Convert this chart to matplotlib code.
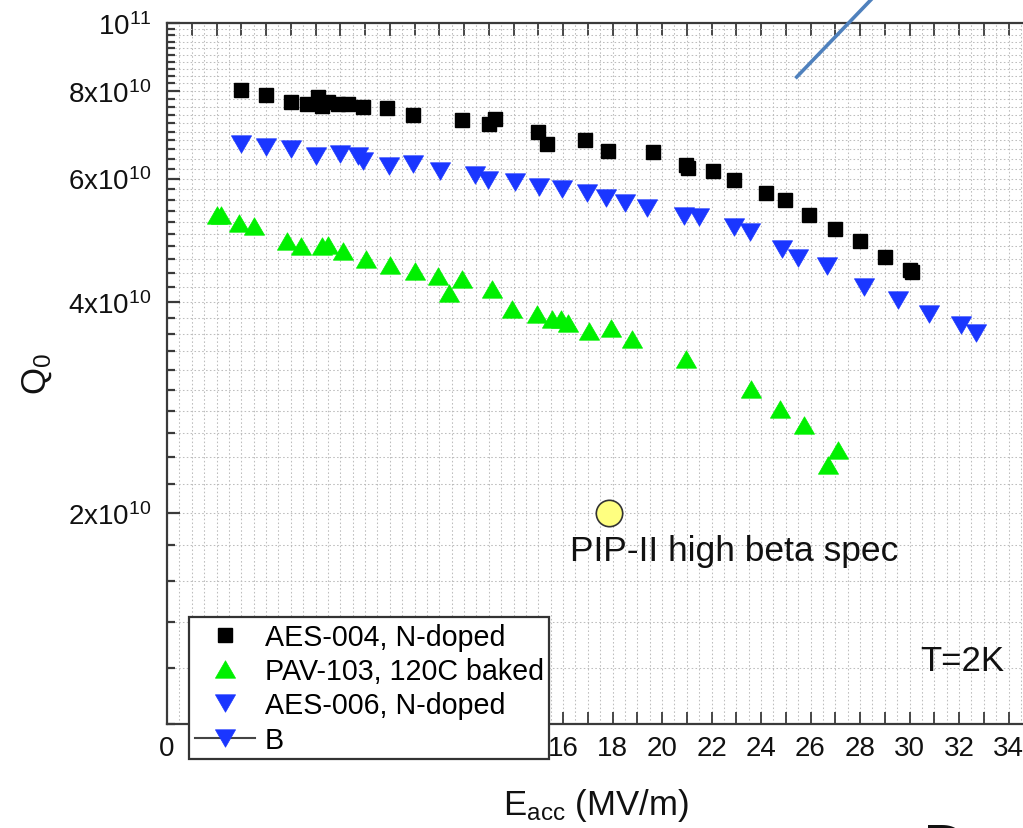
import numpy as np
import matplotlib
matplotlib.use('Agg')
import matplotlib.pyplot as plt
from matplotlib.path import Path
from matplotlib.lines import Line2D
from matplotlib.ticker import FixedLocator, MultipleLocator, FuncFormatter, NullFormatter

plt.rcParams['font.family'] = ['Liberation Sans', 'DejaVu Sans']
plt.rcParams['mathtext.fontset'] = 'custom'
plt.rcParams['mathtext.rm'] = 'Liberation Sans'
plt.rcParams['mathtext.it'] = 'Liberation Sans:italic'
plt.rcParams['mathtext.default'] = 'regular'

# ---------------- data ----------------
aes004_e = [3.0, 4.0, 5.0, 5.65, 6.1, 6.25, 6.5, 6.9, 7.3, 7.9, 8.9, 9.95, 11.9,
            13.0, 13.25, 15.0, 15.35, 16.9, 17.8, 19.65, 20.95, 21.05, 22.05, 22.9,
            24.2, 24.95, 25.95, 27.0, 28.0, 29.0, 30.0, 30.1]
aes004_q = [8.02e10, 7.89e10, 7.72e10, 7.66e10, 7.84e10, 7.62e10, 7.71e10, 7.66e10,
            7.66e10, 7.59e10, 7.56e10, 7.39e10, 7.27e10, 7.17e10, 7.29e10, 6.99e10,
            6.71e10, 6.80e10, 6.57e10, 6.54e10, 6.28e10, 6.22e10, 6.15e10, 5.97e10,
            5.72e10, 5.60e10, 5.32e10, 5.09e10, 4.89e10, 4.63e10, 4.44e10, 4.41e10]

pav103_e = [2.03, 2.19, 2.9, 3.5, 4.85, 5.4, 6.25, 6.5, 7.1, 8.05, 9.0, 10.0, 10.95,
            11.4, 11.9, 13.15, 13.95, 14.95, 15.55, 15.9, 16.2, 17.05, 17.95, 18.8,
            20.95, 23.6, 24.75, 25.75, 26.7, 27.1]
pav103_q = [5.33e10, 5.33e10, 5.19e10, 5.13e10, 4.89e10, 4.81e10, 4.81e10, 4.82e10,
            4.73e10, 4.61e10, 4.52e10, 4.43e10, 4.35e10, 4.12e10, 4.32e10, 4.17e10,
            3.91e10, 3.84e10, 3.78e10, 3.78e10, 3.73e10, 3.64e10, 3.67e10, 3.54e10,
            3.32e10, 3.01e10, 2.81e10, 2.67e10, 2.34e10, 2.46e10]

aes006_e = [3.0, 4.0, 5.0, 6.0, 7.0, 7.7, 7.9, 8.95, 9.95, 11.05, 12.45, 12.95, 14.05,
            15.05, 15.95, 16.95, 17.75, 18.5, 19.4, 20.9, 21.5, 22.9, 23.55, 24.85,
            25.5, 26.65, 28.15, 29.55, 30.8, 32.1, 32.7]
aes006_q = [6.71e10, 6.66e10, 6.61e10, 6.46e10, 6.51e10, 6.46e10, 6.36e10, 6.25e10,
            6.30e10, 6.15e10, 6.07e10, 5.98e10, 5.93e10, 5.84e10, 5.79e10, 5.73e10,
            5.62e10, 5.53e10, 5.45e10, 5.30e10, 5.28e10, 5.12e10, 5.03e10, 4.76e10,
            4.62e10, 4.50e10, 4.20e10, 4.02e10, 3.85e10, 3.71e10, 3.61e10]

spec_e = [17.85]
spec_q = [2.0e10]

series_labels = ['AES-004, N-doped', 'PAV-103, 120C baked', 'AES-006, N-doped', 'B']
spec_label = 'PIP-II high beta spec'
temp_label = 'T=2K'

y_major = [2e10, 4e10, 6e10, 8e10, 1e11]
y_major_labels = ['$2x10^{10}$', '$4x10^{10}$', '$6x10^{10}$', '$8x10^{10}$', '$10^{11}$']

# ---------------- styling ----------------
BLACK = '#000000'
GREEN = '#00f000'
BLUE = '#1a36ff'
SPINE = '#3a3a3a'

tri_up = Path([(0, 0.866), (-1, -0.866), (1, -0.866), (0, 0.866)], closed=True)
tri_dn = Path([(0, -0.866), (-1, 0.866), (1, 0.866), (0, -0.866)], closed=True)

W, H = 1023, 829
fig = plt.figure(figsize=(W / 100, H / 100), dpi=100)
ax_w_px = 36 * 24.75
ax = fig.add_axes([167 / W, 1 - 725 / H, ax_w_px / W, 701 / H])

ax.set_yscale('log')
ax.set_xlim(0, 36)
ax.set_ylim(1e10, 1e11)

h1, = ax.plot(aes004_e, aes004_q, ls='none', marker='s', ms=10, mfc=BLACK, mec=BLACK, zorder=3)
h2, = ax.plot(pav103_e, pav103_q, ls='none', marker=tri_up, ms=14.5, mfc=GREEN, mec=GREEN, mew=0.5, zorder=3)
h3, = ax.plot(aes006_e, aes006_q, ls='none', marker=tri_dn, ms=14.5, mfc=BLUE, mec=BLUE, mew=0.5, zorder=3)
hB = Line2D([], [], color='#444444', lw=1.5, marker=tri_dn, ms=14.5, mfc=BLUE, mec=BLUE, mew=0.5)

ax.plot(spec_e, spec_q, ls='none', marker='o', ms=19, mfc='#ffff80', mec='#333333', mew=1.2, zorder=4)
ax.text(16.28, 1.713e10, spec_label, fontsize=25.5, va='baseline', ha='left', color='#111111', zorder=4)
ax.text(30.42, 1.196e10, temp_label, fontsize=25, va='baseline', ha='left', color='#111111', zorder=4)

# ticks
ax.xaxis.set_major_locator(MultipleLocator(1))
ax.xaxis.set_major_formatter(FuncFormatter(lambda v, p: f'{int(round(v))}' if int(round(v)) % 2 == 0 else ''))
ax.xaxis.set_minor_locator(FixedLocator(np.arange(0.5, 36, 1.0)))
ax.xaxis.set_minor_formatter(NullFormatter())

ax.yaxis.set_major_locator(FixedLocator(y_major))
ax.yaxis.set_major_formatter(FuncFormatter(lambda v, p: y_major_labels[y_major.index(min(y_major, key=lambda m: abs(m - v)))]))
ymin = [v for v in np.arange(1.0e10, 1.0001e11, 2e9) if min(abs(v - m) for m in y_major) > 1e8]
ax.yaxis.set_minor_locator(FixedLocator(ymin))
ax.yaxis.set_minor_formatter(NullFormatter())

ax.tick_params(axis='both', which='both', direction='in', top=True, right=True,
               color=SPINE, labelsize=20, labelcolor='#111111')
ax.tick_params(axis='x', which='major', length=9, width=1.3, pad=8)
ax.tick_params(axis='x', which='minor', length=0)
ax.tick_params(axis='y', which='major', length=9.5, width=1.6, pad=11)
ax.tick_params(axis='y', which='minor', length=5.5, width=1.6)

for s in ax.spines.values():
    s.set_color(SPINE)
    s.set_linewidth(1.6)

ax.set_axisbelow(True)
ax.grid(True, which='both', color='#bdbdbd', linestyle=(0, (1.5, 2.2)), linewidth=0.75)

ax.set_xlabel('$E_{acc}$ (MV/m)', fontsize=25, color='#111111')
ax.xaxis.set_label_coords((596 - 167) / ax_w_px, -0.088)
ax.set_ylabel('$Q_0$', fontsize=25, color='#111111')
ax.yaxis.set_label_coords((54 - 167) / ax_w_px, 0.50)

leg = ax.legend([h1, h2, h3, hB], series_labels, loc='upper left',
                bbox_to_anchor=(189 / W, 1 - 618 / H), bbox_transform=fig.transFigure,
                fontsize=20.6, frameon=True, fancybox=False, edgecolor='#333333',
                framealpha=1, borderpad=0.2, labelspacing=0.22, handlelength=2.1,
                handletextpad=0.34, borderaxespad=0, numpoints=1)
leg.get_frame().set_linewidth(1.6)
leg.set_zorder(10)

# slide decorations (pointer line and cut-off letter)
fig.add_artist(Line2D([796.7 / W, 890.9 / W], [1 - 78 / H, 1 + 20 / H],
                      transform=fig.transFigure, color='#4f81bd', lw=2.6))
fig.text(923 / W, 1 - 867 / H, 'D', fontsize=44, va='baseline', ha='left', color='#111111')

fig.savefig('out.png', dpi=100)
